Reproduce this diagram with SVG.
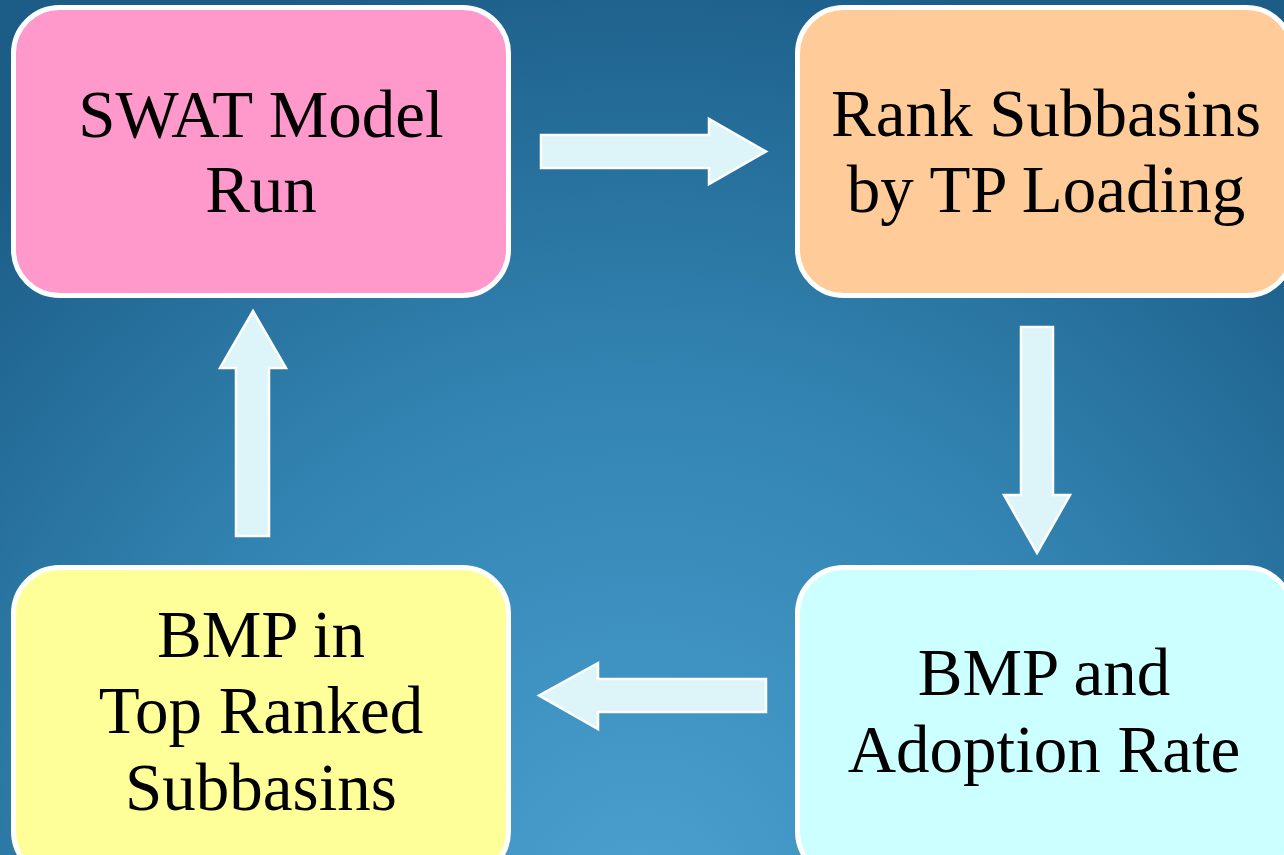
<svg xmlns="http://www.w3.org/2000/svg" width="1284" height="855" viewBox="0 0 1284 855">
<defs>
<radialGradient id="bg" gradientUnits="userSpaceOnUse" cx="642" cy="900" r="960">
<stop offset="0" stop-color="#4aa0cf"/>
<stop offset="0.55" stop-color="#3283b1"/>
<stop offset="1" stop-color="#1c5d88"/>
</radialGradient>
<style>
.box{stroke:#ffffff;stroke-width:5}
.lbl{font-family:"Liberation Serif","DejaVu Serif",serif;font-size:67px;fill:#000000;text-anchor:middle}
.arr{fill:#ddf5f9;stroke:#ffffff;stroke-width:2.5;stroke-linejoin:miter}
</style>
</defs>
<rect x="0" y="0" width="1284" height="855" fill="url(#bg)"/>
<g id="node-swat">
<rect class="box" x="13.5" y="7.5" width="495" height="288" rx="46" fill="#ff99cc"/>
<text class="lbl" x="261" y="137">SWAT Model</text>
<text class="lbl" x="261" y="212">Run</text>
</g>
<g id="node-rank">
<rect class="box" x="797.5" y="7.5" width="495" height="288" rx="46" fill="#ffcc99"/>
<text class="lbl" x="1046" y="136">Rank Subbasins</text>
<text class="lbl" x="1046" y="212">by TP Loading</text>
</g>
<g id="node-adoption">
<rect class="box" x="797.5" y="567.5" width="495" height="310" rx="46" fill="#ccffff"/>
<text class="lbl" x="1044" y="695">BMP and</text>
<text class="lbl" x="1044" y="772">Adoption Rate</text>
</g>
<g id="node-top">
<rect class="box" x="13.5" y="567.5" width="495" height="310" rx="46" fill="#ffff99"/>
<text class="lbl" x="261" y="657">BMP in</text>
<text class="lbl" x="261" y="733">Top Ranked</text>
<text class="lbl" x="261" y="810">Subbasins</text>
</g>
<g id="connectors">
<polygon class="arr" points="541,135 709,135 709,119 766,151.5 709,184 709,168 541,168"/>
<polygon class="arr" points="1021,327 1053,327 1053,495 1070,495 1037,553 1004,495 1021,495"/>
<polygon class="arr" points="766,679 598,679 598,663 539,695.5 598,729 598,712 766,712"/>
<polygon class="arr" points="236,536 236,368 220,368 253,311 286,368 269,368 269,536"/>
</g>
</svg>
